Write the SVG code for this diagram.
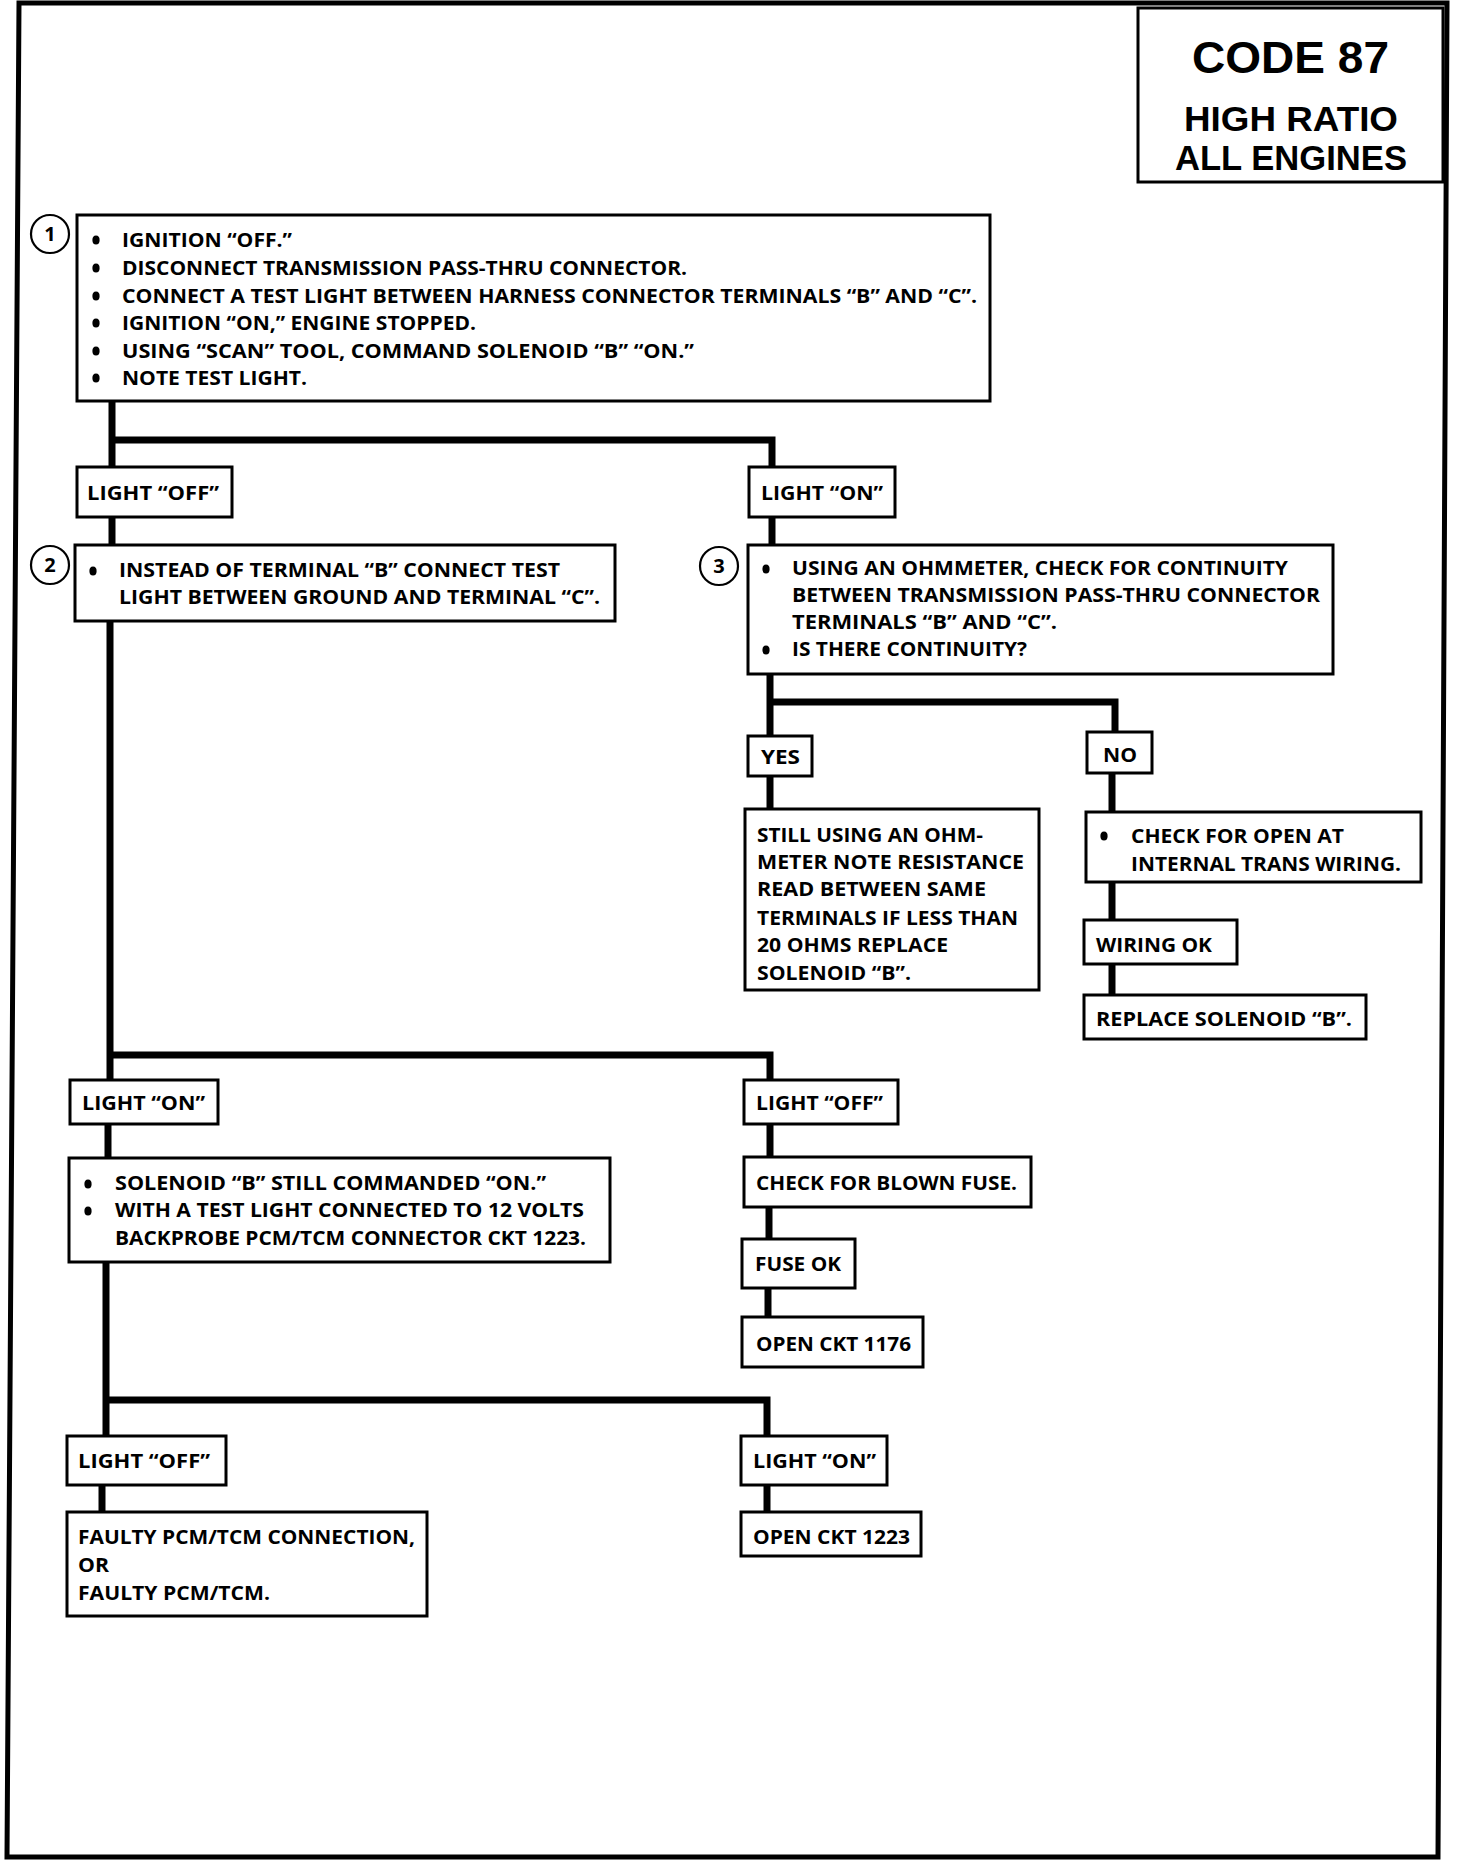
<svg xmlns="http://www.w3.org/2000/svg" width="1472" height="1864" viewBox="0 0 1472 1864">
<style>
.bg{fill:#fff}
.frame{fill:none;stroke:#000;stroke-width:5;stroke-linejoin:miter}
.box{fill:#fff;stroke:#000;stroke-width:3}
.conn{fill:none;stroke:#000;stroke-width:7;stroke-linejoin:miter;stroke-linecap:butt}
.num{fill:#fff;stroke:#000;stroke-width:2.2}
.t{font-family:"Open Sans","Liberation Sans",sans-serif;font-weight:bold;font-size:19px;fill:#000}
.n{font-family:"Open Sans","Liberation Sans",sans-serif;font-weight:bold;font-size:20px;fill:#000;text-anchor:middle}
.h1{font-family:"Liberation Sans","Open Sans",sans-serif;font-weight:bold;font-size:44px;fill:#000}
.h2{font-family:"Liberation Sans","Open Sans",sans-serif;font-weight:bold;font-size:35px;fill:#000}
.dot{fill:#000}
</style>
<rect class="bg" x="0" y="0" width="1472" height="1864"/>
<path class="frame" d="M19,3 L1447,3 L1438,1857 L7,1857 Z"/>

<g id="connectors">
<path class="conn" d="M112,401 V467 M112,440 H772 V467"/>
<path class="conn" d="M112,517 V545"/>
<path class="conn" d="M772,517 V545"/>
<path class="conn" d="M110,621 V1080 M110,1055 H770 V1080"/>
<path class="conn" d="M770,674 V736 M770,702 H1115 V732"/>
<path class="conn" d="M770,776 V809"/>
<path class="conn" d="M1112,773 V812"/>
<path class="conn" d="M1112,882 V920"/>
<path class="conn" d="M1112,964 V995"/>
<path class="conn" d="M108,1124 V1158"/>
<path class="conn" d="M106,1262 V1436 M106,1400 H767 V1436"/>
<path class="conn" d="M102,1485 V1512"/>
<path class="conn" d="M767,1485 V1512"/>
<path class="conn" d="M770,1124 V1157"/>
<path class="conn" d="M769,1207 V1239"/>
<path class="conn" d="M768,1288 V1317"/>
</g>

<g id="title">
<rect class="box" x="1138" y="8" width="305" height="174"/>
<text class="h1" x="1192" y="73" textLength="197" lengthAdjust="spacingAndGlyphs">CODE 87</text>
<text class="h2" x="1184" y="131" textLength="214" lengthAdjust="spacingAndGlyphs">HIGH RATIO</text>
<text class="h2" x="1175" y="170" textLength="232" lengthAdjust="spacingAndGlyphs">ALL ENGINES</text>
</g>

<g id="step1">
<circle class="num" cx="50" cy="234" r="19"/>
<text class="n" x="50" y="241">1</text>
<rect class="box" x="77" y="215" width="913" height="186"/>
<ellipse class="dot" cx="96" cy="240" rx="3.6" ry="4.5"/>
<ellipse class="dot" cx="96" cy="268" rx="3.6" ry="4.5"/>
<ellipse class="dot" cx="96" cy="296" rx="3.6" ry="4.5"/>
<ellipse class="dot" cx="96" cy="323" rx="3.6" ry="4.5"/>
<ellipse class="dot" cx="96" cy="351" rx="3.6" ry="4.5"/>
<ellipse class="dot" cx="96" cy="378" rx="3.6" ry="4.5"/>
<text class="t" x="122" y="247" textLength="170" lengthAdjust="spacingAndGlyphs">IGNITION “OFF.”</text>
<text class="t" x="122" y="275" textLength="565" lengthAdjust="spacingAndGlyphs">DISCONNECT TRANSMISSION PASS-THRU CONNECTOR.</text>
<text class="t" x="122" y="303" textLength="855" lengthAdjust="spacingAndGlyphs">CONNECT A TEST LIGHT BETWEEN HARNESS CONNECTOR TERMINALS “B” AND “C”.</text>
<text class="t" x="122" y="330" textLength="354" lengthAdjust="spacingAndGlyphs">IGNITION “ON,” ENGINE STOPPED.</text>
<text class="t" x="122" y="358" textLength="572" lengthAdjust="spacingAndGlyphs">USING “SCAN” TOOL, COMMAND SOLENOID “B” “ON.”</text>
<text class="t" x="122" y="385" textLength="185" lengthAdjust="spacingAndGlyphs">NOTE TEST LIGHT.</text>
</g>

<g id="light-off-1">
<rect class="box" x="77" y="467" width="155" height="50"/>
<text class="t" x="87" y="500" textLength="132" lengthAdjust="spacingAndGlyphs">LIGHT “OFF”</text>
</g>

<g id="light-on-1">
<rect class="box" x="749" y="467" width="146" height="50"/>
<text class="t" x="761" y="500" textLength="122" lengthAdjust="spacingAndGlyphs">LIGHT “ON”</text>
</g>

<g id="step2">
<circle class="num" cx="50" cy="565" r="19"/>
<text class="n" x="50" y="572">2</text>
<rect class="box" x="75" y="545" width="540" height="76"/>
<ellipse class="dot" cx="93" cy="571" rx="3.6" ry="4.5"/>
<text class="t" x="119" y="577" textLength="441" lengthAdjust="spacingAndGlyphs">INSTEAD OF TERMINAL “B” CONNECT TEST</text>
<text class="t" x="119" y="604" textLength="481" lengthAdjust="spacingAndGlyphs">LIGHT BETWEEN GROUND AND TERMINAL “C”.</text>
</g>

<g id="step3">
<circle class="num" cx="719" cy="566" r="19"/>
<text class="n" x="719" y="573">3</text>
<rect class="box" x="748" y="545" width="585" height="129"/>
<ellipse class="dot" cx="766" cy="569" rx="3.6" ry="4.5"/>
<ellipse class="dot" cx="766" cy="650" rx="3.6" ry="4.5"/>
<text class="t" x="792" y="575" textLength="496" lengthAdjust="spacingAndGlyphs">USING AN OHMMETER, CHECK FOR CONTINUITY</text>
<text class="t" x="792" y="602" textLength="528" lengthAdjust="spacingAndGlyphs">BETWEEN TRANSMISSION PASS-THRU CONNECTOR</text>
<text class="t" x="792" y="629" textLength="265" lengthAdjust="spacingAndGlyphs">TERMINALS “B” AND “C”.</text>
<text class="t" x="792" y="656" textLength="235" lengthAdjust="spacingAndGlyphs">IS THERE CONTINUITY?</text>
</g>

<g id="yes">
<rect class="box" x="748" y="736" width="64" height="40"/>
<text class="t" x="761" y="764" textLength="39" lengthAdjust="spacingAndGlyphs">YES</text>
</g>

<g id="no">
<rect class="box" x="1087" y="732" width="65" height="41"/>
<text class="t" x="1103" y="762" textLength="34" lengthAdjust="spacingAndGlyphs">NO</text>
</g>

<g id="yes-result">
<rect class="box" x="745" y="809" width="294" height="181"/>
<text class="t" x="757" y="842" textLength="226" lengthAdjust="spacingAndGlyphs">STILL USING AN OHM-</text>
<text class="t" x="757" y="869" textLength="267" lengthAdjust="spacingAndGlyphs">METER NOTE RESISTANCE</text>
<text class="t" x="757" y="896" textLength="229" lengthAdjust="spacingAndGlyphs">READ BETWEEN SAME</text>
<text class="t" x="757" y="925" textLength="261" lengthAdjust="spacingAndGlyphs">TERMINALS IF LESS THAN</text>
<text class="t" x="757" y="952" textLength="191" lengthAdjust="spacingAndGlyphs">20 OHMS REPLACE</text>
<text class="t" x="757" y="980" textLength="154" lengthAdjust="spacingAndGlyphs">SOLENOID “B”.</text>
</g>

<g id="no-result">
<rect class="box" x="1086" y="812" width="335" height="70"/>
<ellipse class="dot" cx="1104" cy="836" rx="3.6" ry="4.5"/>
<text class="t" x="1131" y="843" textLength="213" lengthAdjust="spacingAndGlyphs">CHECK FOR OPEN AT</text>
<text class="t" x="1131" y="871" textLength="270" lengthAdjust="spacingAndGlyphs">INTERNAL TRANS WIRING.</text>
</g>

<g id="wiring-ok">
<rect class="box" x="1084" y="920" width="153" height="44"/>
<text class="t" x="1096" y="952" textLength="116" lengthAdjust="spacingAndGlyphs">WIRING OK</text>
</g>

<g id="replace-solenoid">
<rect class="box" x="1084" y="995" width="282" height="44"/>
<text class="t" x="1096" y="1026" textLength="256" lengthAdjust="spacingAndGlyphs">REPLACE SOLENOID “B”.</text>
</g>

<g id="light-on-2">
<rect class="box" x="70" y="1080" width="148" height="44"/>
<text class="t" x="82" y="1110" textLength="123" lengthAdjust="spacingAndGlyphs">LIGHT “ON”</text>
</g>

<g id="step4">
<rect class="box" x="69" y="1158" width="541" height="104"/>
<ellipse class="dot" cx="88" cy="1184" rx="3.6" ry="4.5"/>
<ellipse class="dot" cx="88" cy="1211" rx="3.6" ry="4.5"/>
<text class="t" x="115" y="1190" textLength="431" lengthAdjust="spacingAndGlyphs">SOLENOID “B” STILL COMMANDED “ON.”</text>
<text class="t" x="115" y="1217" textLength="469" lengthAdjust="spacingAndGlyphs">WITH A TEST LIGHT CONNECTED TO 12 VOLTS</text>
<text class="t" x="115" y="1245" textLength="471" lengthAdjust="spacingAndGlyphs">BACKPROBE PCM/TCM CONNECTOR CKT 1223.</text>
</g>

<g id="light-off-2">
<rect class="box" x="744" y="1080" width="154" height="44"/>
<text class="t" x="756" y="1110" textLength="127" lengthAdjust="spacingAndGlyphs">LIGHT “OFF”</text>
</g>

<g id="blown-fuse">
<rect class="box" x="744" y="1157" width="287" height="50"/>
<text class="t" x="756" y="1190" textLength="261" lengthAdjust="spacingAndGlyphs">CHECK FOR BLOWN FUSE.</text>
</g>

<g id="fuse-ok">
<rect class="box" x="742" y="1239" width="113" height="49"/>
<text class="t" x="755" y="1271" textLength="86" lengthAdjust="spacingAndGlyphs">FUSE OK</text>
</g>

<g id="open-1176">
<rect class="box" x="742" y="1317" width="181" height="50"/>
<text class="t" x="756" y="1351" textLength="155" lengthAdjust="spacingAndGlyphs">OPEN CKT 1176</text>
</g>

<g id="light-off-3">
<rect class="box" x="67" y="1436" width="159" height="49"/>
<text class="t" x="78" y="1468" textLength="132" lengthAdjust="spacingAndGlyphs">LIGHT “OFF”</text>
</g>

<g id="faulty">
<rect class="box" x="67" y="1512" width="360" height="104"/>
<text class="t" x="78" y="1544" textLength="337" lengthAdjust="spacingAndGlyphs">FAULTY PCM/TCM CONNECTION,</text>
<text class="t" x="78" y="1572" textLength="31" lengthAdjust="spacingAndGlyphs">OR</text>
<text class="t" x="78" y="1600" textLength="192" lengthAdjust="spacingAndGlyphs">FAULTY PCM/TCM.</text>
</g>

<g id="light-on-3">
<rect class="box" x="741" y="1436" width="146" height="49"/>
<text class="t" x="753" y="1468" textLength="123" lengthAdjust="spacingAndGlyphs">LIGHT “ON”</text>
</g>

<g id="open-1223">
<rect class="box" x="741" y="1512" width="180" height="44"/>
<text class="t" x="753" y="1544" textLength="157" lengthAdjust="spacingAndGlyphs">OPEN CKT 1223</text>
</g>
</svg>
